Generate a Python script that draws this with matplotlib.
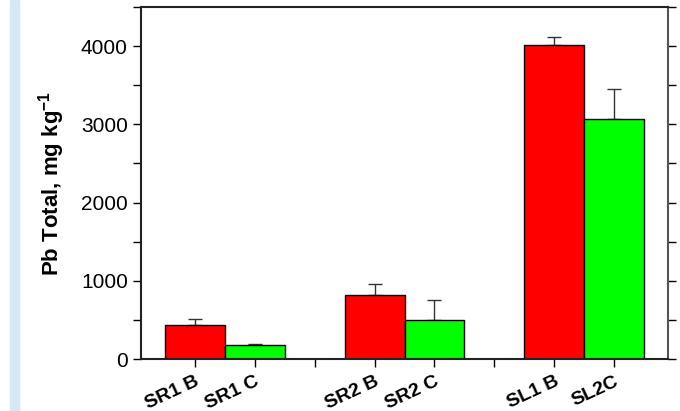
import matplotlib.pyplot as plt
from matplotlib.ticker import MultipleLocator

plt.rcParams['font.family'] = ['Liberation Sans', 'DejaVu Sans']
plt.rcParams['mathtext.fontset'] = 'custom'
plt.rcParams['mathtext.bf'] = 'Liberation Sans:bold'

# sample groups and totals
labels = ['SR1 B', 'SR1 C', 'SR2 B', 'SR2 C', 'SL1 B', 'SL2C']
pb_total = [430, 185, 820, 500, 4020, 3070]
pb_err = [75, 5, 133, 250, 95, 380]
positions = [1, 2, 4, 5, 7, 8]
colors = ['#ff0000', '#00ff00', '#ff0000', '#00ff00', '#ff0000', '#00ff00']

fig = plt.figure(figsize=(6.8, 4.11), dpi=100)
# light blue side strip
fig.patches.append(plt.Rectangle((10 / 680, 0), 9 / 680, 1, transform=fig.transFigure,
                                 color='#d6e7f5', zorder=0))

ax = fig.add_axes([141 / 680, 52 / 411, 527 / 680, 352 / 411])
ax.bar(positions, pb_total, width=1.0, color=colors, edgecolor='black', linewidth=1, zorder=2)
ax.errorbar(positions, pb_total, yerr=[[0] * len(pb_err), pb_err], fmt='none',
            ecolor='#333333', elinewidth=1, capsize=5, capthick=1, zorder=1)

ax.set_xlim(0.1, 8.9)
ax.set_ylim(0, 4500)
ax.set_xticks(range(1, 9))
ax.set_xticklabels([labels[positions.index(i)] if i in positions else '' for i in range(1, 9)],
                   rotation=25, ha='right', rotation_mode='anchor', fontweight='bold', fontsize=14)
ax.yaxis.set_major_locator(MultipleLocator(1000))
ax.yaxis.set_minor_locator(MultipleLocator(500))
ax.tick_params(axis='y', which='both', direction='out', length=6, width=1,
               right=True, labelsize=15)
ax.tick_params(axis='x', direction='out', length=6, width=1, pad=4)

for side in ['left', 'bottom', 'top']:
    ax.spines[side].set_linewidth(1.5)
    ax.spines[side].set_color('#222222')
ax.spines['right'].set_linewidth(1.5)
ax.spines['right'].set_color('#555555')

ax.set_ylabel('Pb Total, mg kg$^{\\mathbf{-1}}$', fontsize=16, fontweight='bold', labelpad=10)

fig.savefig('out.png', dpi=100)
